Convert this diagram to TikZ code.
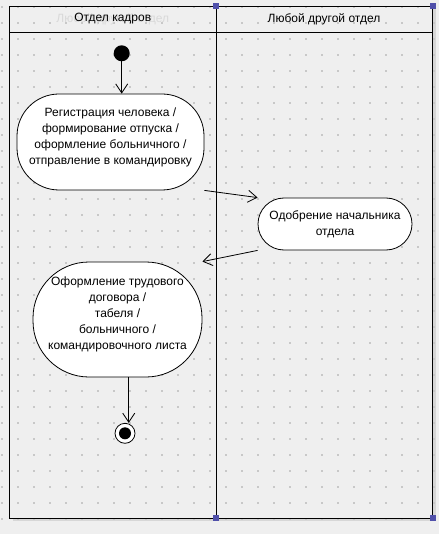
\documentclass[tikz,border=0pt]{standalone}
\usepackage{fontspec}
\setmainfont{Liberation Sans}
\usetikzlibrary{arrows.meta}

\definecolor{bgc}{RGB}{239,239,239}
\definecolor{dotc}{RGB}{200,200,200}
\definecolor{shadowc}{RGB}{215,215,215}
\definecolor{handlec}{RGB}{80,80,170}

\tikzset{
  activity/.style={rectangle, draw, fill=white, line width=0.8pt, align=center, inner sep=0pt,
    font=\fontsize{12}{16}\selectfont},
  flow/.style={line width=0.8pt, -{Straight Barb[length=9pt,width=12pt,line width=0.8pt]}},
  lanetitle/.style={font=\fontsize{12}{14}\selectfont},
  handle/.style={fill=handlec, minimum size=6pt, inner sep=0pt, rectangle}
}

\begin{document}
\begin{tikzpicture}[x=1pt,y=-1pt]
\useasboundingbox (0,0) rectangle (439,534);
\fill[bgc] (0,0) rectangle (439,534);

% swimlanes
\fill[shadowc] (12.5,9) rectangle (435.5,521);
\fill[bgc] (9.5,6) rectangle (432.5,518);
\foreach \i in {0,...,27}
  \foreach \j in {0,...,32}
    \fill[dotc] (2+16*\i-1,7+16*\j-1) rectangle +(2,2);
\draw[line width=0.8pt] (9.5,6) rectangle (432.5,518);
\draw[line width=0.8pt] (216,6) -- (216,518);
\draw[line width=0.8pt] (9.5,32) -- (432.5,32);

\node (ghost) at (112.75,19) [lanetitle, text=gray!30] {Любой другой отдел};
\node (hr) at (112.75,19) [lanetitle] {Отдел кадров};
\node (other) at (324,19) [lanetitle] {Любой другой отдел};

\node (h1) at (216,6) [handle] {};
\node (h2) at (432.5,6) [handle] {};
\node (h3) at (216,518) [handle] {};
\node (h4) at (432.5,518) [handle] {};

% activities
\node (start) at (121.7,53.3) [circle, fill=black, minimum size=16pt, inner sep=0pt] {};

\node (reg) at (110.5,142) [activity, minimum width=187pt, minimum height=96pt, rounded corners=42pt]
  {Регистрация человека /\\формирование отпуска /\\оформление больничного /\\отправление в командировку\\[-5pt]};

\node (appr) at (335,224) [activity, minimum width=154pt, minimum height=52pt, rounded corners=26pt]
  {Одобрение начальника\\отдела};

\node (contract) at (117.5,319.5) [activity, minimum width=169pt, minimum height=115pt, rounded corners=56pt]
  {Оформление трудового\\договора /\\табеля /\\больничного /\\командировочного листа\\[-4pt]};

\node (fin) at (125,433.3) [circle, draw, fill=white, line width=0.8pt, minimum size=20pt, inner sep=0pt] {};
\node (finc) at (125,433.3) [circle, fill=black, minimum size=12pt, inner sep=0pt] {};

% transitions
\draw[flow] (start) -- (start |- reg.north);
\draw[flow] (reg.south east) -- (appr.north west);
\draw[flow] (appr.south west) -- (contract.north east);
\draw[flow] (contract.-79) -- (contract.-79 |- fin.north);

\end{tikzpicture}
\end{document}
